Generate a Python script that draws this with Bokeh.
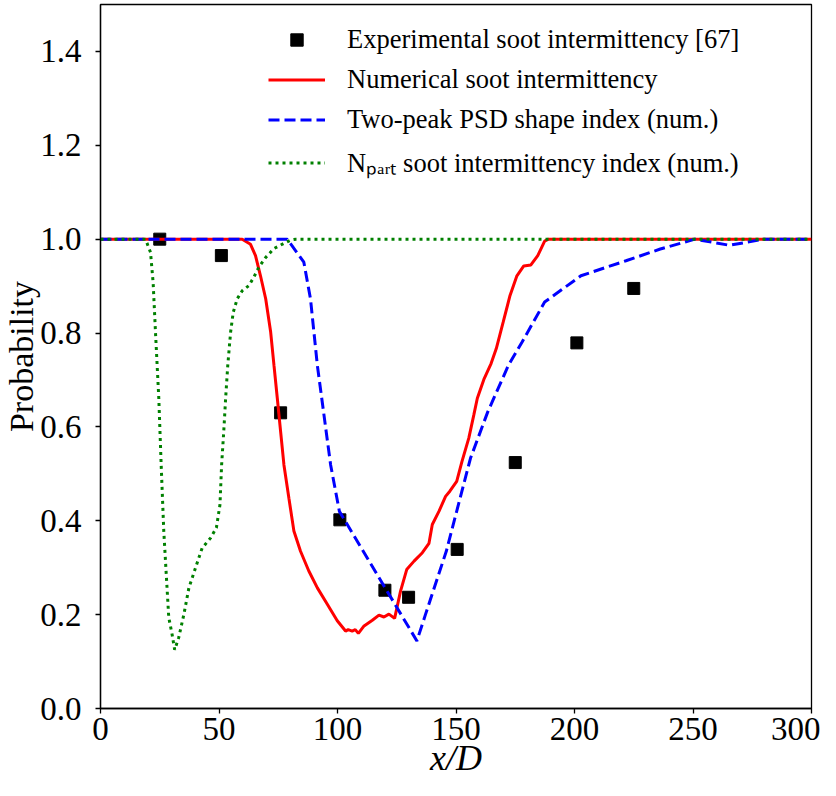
from bokeh.plotting import figure
from bokeh.models import (ColumnDataSource, Range1d, FixedTicker, PrintfTickFormatter,
                          Legend, LegendItem)
from bokeh.embed import file_html
from bokeh.resources import INLINE

# ---------------- data ----------------
exp_x = [25, 51, 76, 101, 120, 130, 150.5, 175, 201, 225]
exp_y = [1.0, 0.965, 0.63, 0.402, 0.252, 0.237, 0.339, 0.524, 0.779, 0.895]

num_x = [0, 59.8, 63.3, 65.4, 67.5, 69.7, 71.8, 73.2, 74.6, 76.0, 77.4, 79.5, 81.6,
         84.4, 87.9, 91.5, 95.7, 99.9, 103.4, 104.5, 106.2, 107.5, 108.8, 111.2,
         114.7, 117.5, 119.6, 121.7, 124.1, 126.6, 129.2, 132.3, 135.8, 138.6, 140.0,
         142.8, 145.6, 147.4, 150.3, 152.5, 155.4, 157.5, 159.0, 161.9, 164.8, 167.0,
         169.9, 172.8, 175.7, 178.6, 181.6, 184.5, 187.4, 189.0, 300]
num_y = [1.0, 1.0, 0.989, 0.965, 0.922, 0.873, 0.802, 0.731, 0.661, 0.59, 0.519, 0.448,
         0.378, 0.335, 0.293, 0.257, 0.222, 0.187, 0.165, 0.168, 0.165, 0.168, 0.160,
         0.176, 0.188, 0.199, 0.195, 0.201, 0.192, 0.25, 0.296, 0.314, 0.332, 0.352,
         0.392, 0.42, 0.452, 0.463, 0.484, 0.526, 0.576, 0.625, 0.661, 0.703, 0.735,
         0.767, 0.823, 0.88, 0.922, 0.943, 0.945, 0.965, 0.996, 1.0, 1.0]

psd_x = [0, 78.8, 85.8, 88.6, 91.5, 94.3, 97.1, 100.8, 133.5, 137.1, 145.9, 156.1,
         163.4, 172.1, 177.9, 187.4, 202.7, 221.7, 236.2, 250.8, 265.4, 280, 300]
psd_y = [1.0, 1.0, 0.951, 0.873, 0.731, 0.625, 0.519, 0.42, 0.144, 0.2, 0.335, 0.533,
         0.632, 0.731, 0.781, 0.866, 0.922, 0.954, 0.979, 1.0, 0.987, 1.0, 1.0]

npart_x = [0, 19.0, 21.1, 22.2, 23.2, 24.6, 25.6, 26.7, 27.9, 28.8, 30.2, 31.3, 33.0,
           35.2, 37.3, 40.1, 42.9, 46.4, 48.9, 50.4, 51.1, 52.0, 52.8, 53.7, 54.9, 56.0,
           57.7, 59.8, 62.6, 64.7, 66.8, 69.7, 73.2, 77.4, 80.2, 82.5, 300]
npart_y = [1.0, 1.0, 0.972, 0.908, 0.802, 0.661, 0.519, 0.378, 0.272, 0.194, 0.158,
           0.125, 0.151, 0.201, 0.257, 0.30, 0.342, 0.363, 0.385, 0.434, 0.519, 0.59,
           0.661, 0.731, 0.802, 0.844, 0.873, 0.89, 0.901, 0.919, 0.94, 0.961, 0.98,
           0.991, 0.998, 1.0, 1.0]

x_ticks = [0, 50, 100, 150, 200, 250, 300]
y_ticks = [0.0, 0.2, 0.4, 0.6, 0.8, 1.0, 1.2, 1.4]

labels = ["Experimental soot intermittency [67]",
          "Numerical soot intermittency",
          "Two-peak PSD shape index (num.)",
          "N\u209a\u2090\u1d63\u209c soot intermittency index (num.)"]

FONT = "Liberation Serif"

# ---------------- figure ----------------
p = figure(width=820, height=780, x_range=Range1d(0, 300), y_range=Range1d(0, 1.5),
           output_backend="svg", toolbar_location=None,
           min_border_left=100, min_border_right=9, min_border_top=4, min_border_bottom=70)
p.grid.visible = False
p.outline_line_color = "black"
p.outline_line_width = 1.3
p.outline_line_alpha = 1.0
p.background_fill_color = "white"
p.border_fill_color = "white"

for ax in (p.xaxis[0], p.yaxis[0]):
    ax.axis_line_color = "black"
    ax.axis_line_width = 1.3
    ax.major_tick_line_color = "black"
    ax.major_tick_line_width = 1.3
    ax.major_tick_out = 5
    ax.major_tick_in = 0
    ax.minor_tick_out = 0
    ax.minor_tick_in = 0
    ax.major_label_text_font = FONT
    ax.major_label_text_font_size = "33px"
    ax.major_label_text_color = "black"
    ax.axis_label_text_font = FONT
    ax.axis_label_text_color = "black"

p.xaxis.ticker = FixedTicker(ticks=x_ticks)
p.yaxis.ticker = FixedTicker(ticks=y_ticks)
p.xaxis.formatter = PrintfTickFormatter(format="%d")
p.yaxis.formatter = PrintfTickFormatter(format="%.1f")
p.xaxis.axis_label = "x/D"
p.xaxis.axis_label_text_font_style = "italic"
p.xaxis.axis_label_text_font_size = "36px"
p.yaxis.axis_label = "Probability"
p.yaxis.axis_label_text_font_style = "normal"
p.yaxis.axis_label_text_font_size = "34px"
p.xaxis.major_label_standoff = 4
p.xaxis.axis_label_standoff = -5
p.yaxis.major_label_standoff = 14
p.yaxis.axis_label_standoff = -3

src_exp = ColumnDataSource(dict(x=exp_x, y=exp_y))
src_num = ColumnDataSource(dict(x=num_x, y=num_y))
src_psd = ColumnDataSource(dict(x=psd_x, y=psd_y))
src_np = ColumnDataSource(dict(x=npart_x, y=npart_y))

r_exp = p.scatter("x", "y", source=src_exp, marker="square", size=12,
                  fill_color="black", line_color="black")
r_num = p.line("x", "y", source=src_num, line_color="#ff0000", line_width=3)
r_psd = p.line("x", "y", source=src_psd, line_color="#0000ff", line_width=3,
               line_dash="11 5")
r_np = p.line("x", "y", source=src_np, line_color="#008000", line_width=3,
              line_dash="3 4")

legend = Legend(items=[LegendItem(label=labels[0], renderers=[r_exp]),
                       LegendItem(label=labels[1], renderers=[r_num]),
                       LegendItem(label=labels[2], renderers=[r_psd]),
                       LegendItem(label=labels[3], renderers=[r_np])],
                location=(168, 528))
legend.border_line_alpha = 0
legend.background_fill_alpha = 0
legend.padding = 0
legend.margin = 0
legend.spacing = 9
legend.glyph_width = 57
legend.glyph_height = 31
legend.label_height = 31
legend.label_standoff = 22
legend.label_text_font = FONT
legend.label_text_font_size = "26.5px"
legend.label_text_color = "black"
legend.label_text_baseline = "middle"
p.add_layout(legend, "center")

open("out.html", "w").write(file_html(p, INLINE))
